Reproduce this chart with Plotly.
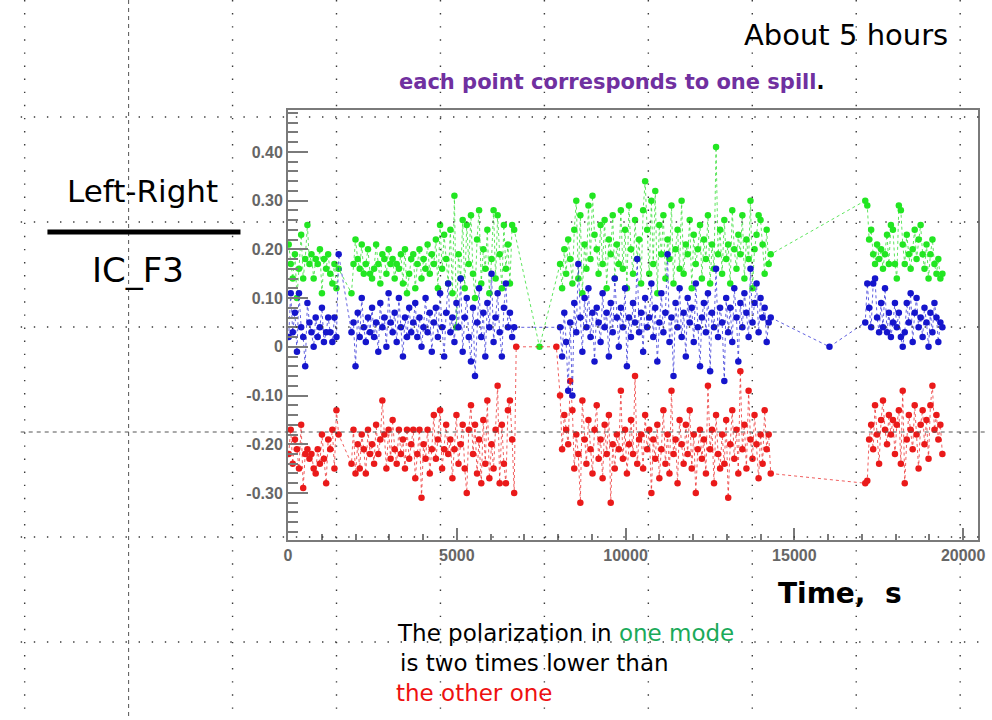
import plotly.graph_objects as go

# ---------------- data ----------------
# spill times (s), four running periods
t_a = [20, 80, 140, 205, 265, 325, 390, 450, 510, 575,
       635, 695, 760, 820, 880, 945, 1005, 1065, 1130, 1190,
       1250, 1315, 1375, 1435, 1500]
t_b = [1880, 1940, 2000, 2065, 2125, 2185, 2245, 2305, 2370, 2430,
       2490, 2550, 2610, 2675, 2735, 2795, 2855, 2915, 2980, 3040,
       3100, 3160, 3220, 3285, 3345, 3405, 3465, 3525, 3590, 3650,
       3710, 3770, 3830, 3895, 3955, 4015, 4075, 4135, 4200, 4260,
       4320, 4380, 4440, 4505, 4565, 4625, 4685, 4745, 4810, 4870,
       4930, 4990, 5050, 5115, 5175, 5235, 5295, 5355, 5420, 5480,
       5540, 5600, 5660, 5725, 5785, 5845, 5905, 5965, 6030, 6090,
       6150, 6210, 6270, 6335, 6395, 6455, 6515, 6575, 6640, 6700]
t_c = [8060, 8120, 8185, 8240, 8300, 8360, 8425, 8480, 8540, 8600,
       8660, 8720, 8785, 8840, 8900, 8960, 9020, 9080, 9145, 9200,
       9260, 9320, 9380, 9440, 9505, 9560, 9620, 9680, 9740, 9800,
       9860, 9920, 9985, 10040, 10100, 10160, 10220, 10280, 10345, 10400,
       10460, 10520, 10580, 10640, 10700, 10765, 10820, 10880, 10940, 11000,
       11060, 11120, 11180, 11245, 11300, 11360, 11420, 11480, 11540, 11600,
       11660, 11720, 11785, 11840, 11900, 11960, 12020, 12080, 12140, 12205,
       12260, 12320, 12380, 12440, 12505, 12560, 12620, 12680, 12740, 12800,
       12860, 12925, 12980, 13040, 13100, 13160, 13220, 13285, 13340, 13400,
       13460, 13520, 13580, 13645, 13700, 13760, 13820, 13880, 13940, 14000,
       14060, 14120, 14180, 14240, 14300]
t_d = [17100, 17160, 17215, 17275, 17335, 17390, 17450, 17510, 17570, 17625,
       17685, 17745, 17800, 17860, 17920, 17980, 18035, 18095, 18155, 18210,
       18270, 18330, 18390, 18445, 18505, 18565, 18620, 18680, 18740, 18800,
       18855, 18915, 18975, 19030, 19090, 19150, 19210, 19265, 19325, 19385]

# green mode
g_a = [0.21, 0.17, 0.14, 0.19, 0.10, 0.16, 0.23, 0.14, 0.18, 0.25,
       0.17, 0.19, 0.14, 0.18, 0.17, 0.20, 0.11, 0.18, 0.16, 0.19,
       0.15, 0.13, 0.17, 0.12, 0.16]
g_b = [0.11, 0.17, 0.22, 0.18, 0.16, 0.21, 0.15, 0.17, 0.20, 0.15,
       0.14, 0.16, 0.21, 0.17, 0.13, 0.19, 0.18, 0.15, 0.20, 0.17,
       0.18, 0.14, 0.17, 0.16, 0.19, 0.13, 0.20, 0.11, 0.15, 0.18,
       0.19, 0.12, 0.17, 0.20, 0.14, 0.18, 0.16, 0.21, 0.15, 0.19,
       0.17, 0.22, 0.12, 0.25, 0.16, 0.23, 0.18, 0.13, 0.24, 0.11,
       0.31, 0.04, 0.19, 0.14, 0.26, 0.12, 0.25, 0.17, 0.27, 0.15,
       0.10, 0.22, 0.28, 0.13, 0.20, 0.16, 0.24, 0.11, 0.18, 0.28,
       0.14, 0.27, 0.19, 0.12, 0.25, 0.16, 0.21, 0.13, 0.25, 0.24]
g_c = [0.17, 0.12, 0.20, 0.15, 0.22, 0.18, 0.13, 0.24, 0.30, 0.14,
       0.27, 0.11, 0.21, 0.16, 0.29, 0.18, 0.31, 0.23, 0.20, 0.15,
       0.25, 0.17, 0.26, 0.12, 0.22, 0.19, 0.27, 0.14, 0.21, 0.17,
       0.28, 0.16, 0.24, 0.12, 0.29, 0.20, 0.15, 0.26, 0.18, 0.22,
       0.13, 0.28, 0.34, 0.24, 0.15, 0.30, 0.17, 0.32, 0.11, 0.25,
       0.19, 0.27, 0.14, 0.22, 0.18, 0.29, 0.13, 0.20, 0.24, 0.16,
       0.30, 0.15, 0.21, 0.19, 0.26, 0.12, 0.23, 0.17, 0.20, 0.25,
       0.14, 0.22, 0.18, 0.27, 0.13, 0.21, 0.16, 0.41, 0.19, 0.24,
       0.15, 0.26, 0.18, 0.21, 0.13, 0.28, 0.20, 0.16, 0.23, 0.19,
       0.27, 0.14, 0.22, 0.18, 0.30, 0.12, 0.20, 0.23, 0.27, 0.26,
       0.21, 0.15, 0.24, 0.17, 0.19]
g_d = [0.30, 0.29, 0.22, 0.24, 0.19, 0.17, 0.21, 0.18, 0.20, 0.16,
       0.19, 0.23, 0.17, 0.25, 0.24, 0.17, 0.14, 0.29, 0.28, 0.21,
       0.17, 0.23, 0.19, 0.16, 0.20, 0.24, 0.18, 0.22, 0.25, 0.19,
       0.16, 0.21, 0.14, 0.19, 0.22, 0.17, 0.15, 0.18, 0.14, 0.15]

# blue mode
b_a = [0.02, 0.11, 0.03, 0.07, -0.01, 0.11, 0.04, 0.02, -0.04, 0.09,
       0.05, 0.03, 0.00, 0.06, 0.02, 0.04, 0.08, 0.01, 0.03, 0.06,
       0.03, 0.01, 0.06, 0.02, 0.19]
b_b = [0.03, 0.05, -0.04, 0.07, 0.02, 0.10, 0.04, 0.01, 0.06, 0.03,
       0.08, 0.02, 0.05, -0.01, 0.09, 0.04, 0.06, 0.00, 0.11, 0.05,
       0.03, 0.07, 0.01, 0.10, 0.04, -0.02, 0.06, 0.02, 0.08, 0.03,
       0.05, 0.09, 0.02, 0.06, 0.00, 0.04, 0.10, 0.03, 0.07, -0.01,
       0.05, 0.08, 0.02, 0.11, 0.04, -0.02, 0.07, 0.13, 0.03, 0.06,
       0.01, 0.09, 0.04, 0.14, -0.01, 0.06, 0.10, 0.02, -0.03, 0.08,
       -0.06, 0.05, 0.12, 0.02, 0.07, -0.02, 0.09, 0.04, 0.15, 0.01,
       0.06, 0.11, 0.03, -0.02, 0.08, 0.13, 0.04, 0.07, 0.02, 0.04]
b_c = [0.04, -0.02, 0.07, 0.01, -0.09, 0.05, -0.10, 0.09, 0.03, 0.17,
       0.06, -0.01, 0.10, 0.04, 0.12, 0.02, 0.07, -0.03, 0.08, 0.05,
       0.01, 0.11, 0.04, 0.07, -0.02, 0.09, 0.03, 0.14, 0.06, 0.00,
       0.08, 0.04, 0.12, -0.04, 0.06, 0.02, 0.09, 0.05, 0.18, 0.03,
       0.07, -0.01, 0.10, 0.04, 0.06, 0.13, 0.02, 0.08, -0.03, 0.05,
       0.11, 0.03, 0.07, 0.19, 0.01, 0.06, -0.06, 0.09, 0.04, 0.12,
       0.02, 0.07, -0.02, 0.10, 0.05, 0.08, 0.01, 0.13, 0.04, -0.04,
       0.06, 0.09, 0.03, 0.11, -0.05, 0.07, 0.04, 0.16, 0.02, 0.08,
       0.05, -0.07, 0.10, 0.03, 0.08, 0.01, 0.12, 0.06, -0.03, 0.09,
       0.04, 0.11, 0.07, 0.02, 0.16, 0.05, 0.09, 0.13, 0.03, 0.10,
       0.06, 0.08, 0.01, 0.05, 0.06]
b_d = [0.05, 0.13, 0.08, 0.04, 0.13, 0.14, 0.06, 0.03, 0.09, 0.04,
       0.12, 0.03, 0.07, 0.02, 0.05, 0.09, 0.04, 0.07, 0.02, 0.00,
       0.03, 0.09, 0.05, 0.11, 0.01, 0.07, 0.10, 0.04, 0.06, 0.02,
       0.08, 0.05, 0.00, 0.07, 0.03, 0.09, 0.06, 0.01, 0.05, 0.04]

# red mode
r_a = [-0.22, -0.17, -0.24, -0.19, -0.21, -0.25, -0.16, -0.29, -0.22, -0.21,
       -0.23, -0.22, -0.25, -0.26, -0.21, -0.24, -0.18, -0.23, -0.28, -0.19,
       -0.21, -0.17, -0.25, -0.13, -0.18]
r_b = [-0.24, -0.17, -0.26, -0.20, -0.25, -0.18, -0.21, -0.26, -0.17, -0.22,
       -0.20, -0.24, -0.16, -0.22, -0.19, -0.11, -0.18, -0.25, -0.17, -0.23,
       -0.15, -0.21, -0.24, -0.17, -0.22, -0.19, -0.25, -0.17, -0.23, -0.20,
       -0.17, -0.27, -0.22, -0.17, -0.31, -0.20, -0.23, -0.17, -0.26, -0.21,
       -0.14, -0.23, -0.19, -0.13, -0.25, -0.21, -0.16, -0.22, -0.19, -0.27,
       -0.21, -0.14, -0.24, -0.20, -0.16, -0.25, -0.30, -0.17, -0.12, -0.22,
       -0.16, -0.26, -0.19, -0.28, -0.15, -0.24, -0.11, -0.27, -0.20, -0.25,
       -0.17, -0.08, -0.28, -0.16, -0.24, -0.28, -0.13, -0.11, -0.19, -0.30]
r_c = [-0.10, -0.21, -0.14, -0.17, -0.20, -0.07, -0.13, -0.25, -0.18, -0.22,
       -0.32, -0.11, -0.19, -0.24, -0.15, -0.21, -0.26, -0.17, -0.12, -0.23,
       -0.19, -0.27, -0.16, -0.22, -0.14, -0.32, -0.20, -0.25, -0.18, -0.21,
       -0.09, -0.23, -0.17, -0.26, -0.20, -0.15, -0.22, -0.06, -0.24, -0.19,
       -0.18, -0.25, -0.14, -0.21, -0.17, -0.30, -0.19, -0.23, -0.16, -0.27,
       -0.21, -0.13, -0.24, -0.18, -0.26, -0.09, -0.22, -0.19, -0.28, -0.15,
       -0.20, -0.24, -0.16, -0.22, -0.13, -0.25, -0.18, -0.30, -0.21, -0.17,
       -0.23, -0.19, -0.26, -0.08, -0.21, -0.17, -0.28, -0.14, -0.22, -0.25,
       -0.18, -0.24, -0.15, -0.31, -0.20, -0.13, -0.23, -0.17, -0.26, -0.05,
       -0.21, -0.16, -0.25, -0.09, -0.19, -0.23, -0.14, -0.20, -0.27, -0.18,
       -0.24, -0.13, -0.21, -0.18, -0.26]
r_d = [-0.28, -0.275, -0.19, -0.16, -0.21, -0.12, -0.18, -0.24, -0.15, -0.11,
       -0.17, -0.20, -0.14, -0.18, -0.15, -0.22, -0.16, -0.13, -0.24, -0.09,
       -0.28, -0.19, -0.14, -0.17, -0.21, -0.12, -0.18, -0.25, -0.16, -0.13,
       -0.20, -0.15, -0.23, -0.12, -0.08, -0.17, -0.14, -0.19, -0.16, -0.22]

# isolated readings between running periods
g_gap_t, g_gap_v = [7450], [0.0]
r_gap_t, r_gap_v = [6760, 7950], [0.0, 0.0]
b_gap_t, b_gap_v = [16040], [0.0]

y_tickvals = [0.40, 0.30, 0.20, 0.10, 0.0, -0.10, -0.20, -0.30]
y_ticktext = ["0.40", "0.30", "0.20", "0.10", "0", "-0.10", "-0.20", "-0.30"]
x_tickvals = [0, 5000, 10000, 15000, 20000]
x_ticktext = ["0", "5000", "10000", "15000", "20000"]

for a, b in [(t_a, g_a), (t_b, g_b), (t_c, g_c), (t_d, g_d),
             (t_a, b_a), (t_b, b_b), (t_c, b_c), (t_d, b_d),
             (t_a, r_a), (t_b, r_b), (t_c, r_c), (t_d, r_d)]:
    assert len(a) == len(b), (len(a), len(b))

green_t = t_a + t_b + g_gap_t + t_c + t_d
green_v = g_a + g_b + g_gap_v + g_c + g_d
red_t = t_a + t_b + r_gap_t + t_c + t_d
red_v = r_a + r_b + r_gap_v + r_c + r_d
blue_t = t_a + t_b + t_c + b_gap_t + t_d
blue_v = b_a + b_b + b_c + b_gap_v + b_d

# ---------------- page geometry ----------------
W, H = 992, 720
L, R, T, B = 288, 985, 110, 540   # plot frame, page pixels


def px(x):
    return (x - L) / (R - L)


def py(y):
    return (B - y) / (B - T)


fig = go.Figure()


def series(t, v, mc, lc):
    fig.add_trace(go.Scatter(
        x=t, y=v, mode="lines+markers",
        marker=dict(size=6.5, color=mc, line=dict(width=0)),
        line=dict(color=lc, width=1, dash="dot"),
        showlegend=False, hoverinfo="x+y"))


series(green_t, green_v, "#22e622", "rgba(40,220,40,0.75)")
series(red_t, red_v, "#ea1a1a", "rgba(235,40,40,0.75)")
series(blue_t, blue_v, "#1515cc", "rgba(30,30,210,0.7)")

axis_grey = "#7a7a7a"
tick_font = dict(family="Liberation Sans", size=16, color="#666666", weight="bold")

fig.update_xaxes(
    range=[0, 20440], showgrid=False, zeroline=False,
    showline=True, mirror=True, linecolor=axis_grey, linewidth=2,
    ticks="inside", ticklen=12, tickwidth=2, tickcolor=axis_grey,
    tickvals=x_tickvals, ticktext=x_ticktext, tickfont=tick_font,
    minor=dict(ticks="inside", ticklen=6, tickwidth=2, tickcolor=axis_grey,
               dtick=1000, tick0=0, showgrid=False))
fig.update_yaxes(
    range=[-0.3965, 0.486], showgrid=False, zeroline=False,
    showline=True, mirror=True, linecolor=axis_grey, linewidth=2,
    ticks="inside", ticklen=20, tickwidth=2, tickcolor=axis_grey,
    tickvals=y_tickvals, ticktext=y_ticktext, tickfont=tick_font,
    minor=dict(ticks="inside", ticklen=10, tickwidth=2, tickcolor=axis_grey,
               dtick=0.02, tick0=0, showgrid=False))

shapes = []
# slide drawing grid (dotted) and centre guides (dashed)
dot_style = dict(color="#3a3a3a", width=1.4, dash="1.4px,11.7px")
guide_style = dict(color="#555555", width=1, dash="4px,4px")
for gx in [22, 127, 232, 337, 442, 547, 652, 757, 862, 967]:
    shapes.append(dict(type="line", xref="paper", yref="paper",
                       x0=px(gx), x1=px(gx), y0=py(0), y1=py(H),
                       line=guide_style if gx == 127 else dot_style,
                       layer="above"))
for gy in [117, 222, 327, 432, 537, 642]:
    shapes.append(dict(type="line", xref="paper", yref="paper",
                       x0=px(18), x1=px(W), y0=py(gy), y1=py(gy),
                       line=guide_style if gy == 432 else dot_style,
                       layer="above"))
# fraction bar of the ratio label
shapes.append(dict(type="line", xref="paper", yref="paper",
                   x0=px(45), x1=px(240), y0=py(232), y1=py(232),
                   line=dict(color="black", width=5), layer="above"))

text_font = "DejaVu Sans"


def note(x, y, text, size, color="black", xanchor="left", bold=False):
    return dict(xref="paper", yref="paper", x=px(x), y=py(y), text=text,
                showarrow=False, xanchor=xanchor, yanchor="middle",
                font=dict(family=text_font, size=size, color=color,
                          weight="bold" if bold else "normal"))


annotations = [
    note(957, 35, "About 5 hours", 29, xanchor="right"),
    note(615, 82, "each point corresponds to one spill<span style='color:black'>.</span>",
         21, color="#7030a0", xanchor="center", bold=True),
    note(141, 191, "Left-Right", 31, xanchor="center"),
    note(136, 270, "IC_F3", 34, xanchor="center"),
    note(846, 593, "Time,  s", 28, xanchor="center", bold=True),
    note(396, 633, "The polarization in <span style='color:#1aaa5a'>one mode</span>", 23),
    note(399, 663, "is two times lower than", 23),
    note(395, 693, "the other one", 23, color="#ee1111"),
]

fig.update_layout(
    width=W, height=H,
    margin=dict(l=L, r=W - R, t=T, b=H - B, pad=0),
    paper_bgcolor="white", plot_bgcolor="white",
    shapes=shapes, annotations=annotations,
    showlegend=False)

fig.write_html("out.html")
